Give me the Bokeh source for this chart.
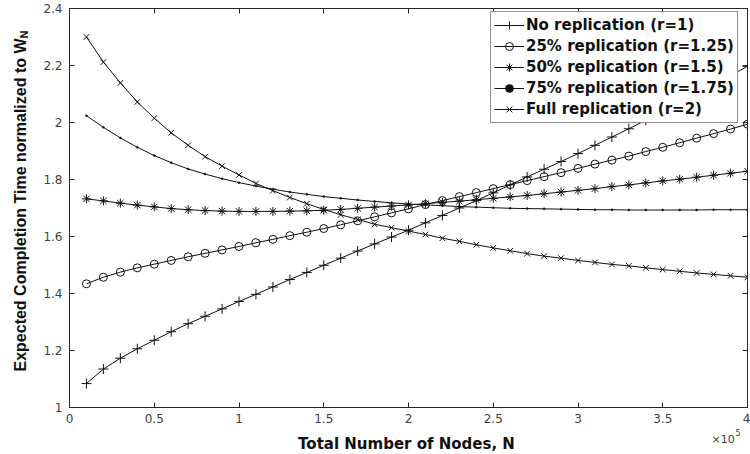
from bokeh.plotting import figure
from bokeh.models import FixedTicker, CustomJSTickFormatter, LinearAxis, Label, Range1d, Legend, LegendItem
from bokeh.core.enums import CoordinateUnits
from bokeh.embed import file_html
from bokeh.resources import INLINE

# Total number of nodes, in units of 10^5
nodes = [0.1, 0.2, 0.3, 0.4, 0.5, 0.6, 0.7, 0.8, 0.9, 1.0,
         1.1, 1.2, 1.3, 1.4, 1.5, 1.6, 1.7, 1.8, 1.9, 2.0,
         2.1, 2.2, 2.3, 2.4, 2.5, 2.6, 2.7, 2.8, 2.9, 3.0,
         3.1, 3.2, 3.3, 3.4, 3.5, 3.6, 3.7, 3.8, 3.9, 4.0]

no_rep = [1.084, 1.135, 1.173, 1.206, 1.236, 1.266, 1.294, 1.320, 1.346, 1.372,
          1.397, 1.423, 1.449, 1.474, 1.499, 1.524, 1.549, 1.574, 1.598, 1.622,
          1.648, 1.674, 1.700, 1.726, 1.753, 1.781, 1.809, 1.836, 1.863, 1.891,
          1.920, 1.949, 1.978, 2.008, 2.039, 2.070, 2.101, 2.133, 2.165, 2.197]

rep25 = [1.434, 1.457, 1.475, 1.490, 1.503, 1.516, 1.529, 1.541, 1.553, 1.565,
         1.578, 1.590, 1.603, 1.615, 1.628, 1.641, 1.655, 1.669, 1.683, 1.697,
         1.712, 1.726, 1.740, 1.754, 1.768, 1.782, 1.796, 1.810, 1.824, 1.839,
         1.854, 1.868, 1.882, 1.898, 1.913, 1.929, 1.945, 1.961, 1.977, 1.994]

rep50 = [1.732, 1.725, 1.717, 1.710, 1.704, 1.698, 1.694, 1.691, 1.689, 1.688,
         1.688, 1.688, 1.689, 1.690, 1.692, 1.695, 1.699, 1.703, 1.707, 1.711,
         1.715, 1.720, 1.724, 1.729, 1.734, 1.739, 1.744, 1.750, 1.756, 1.762,
         1.768, 1.775, 1.781, 1.788, 1.795, 1.801, 1.808, 1.815, 1.822, 1.829]

rep75 = [2.024, 1.983, 1.946, 1.913, 1.884, 1.859, 1.837, 1.819, 1.803, 1.789,
         1.777, 1.766, 1.756, 1.748, 1.740, 1.734, 1.728, 1.723, 1.718, 1.714,
         1.711, 1.708, 1.705, 1.703, 1.701, 1.699, 1.698, 1.697, 1.696, 1.695,
         1.694, 1.694, 1.693, 1.693, 1.693, 1.693, 1.693, 1.694, 1.694, 1.694]

full_rep = [2.300, 2.212, 2.139, 2.072, 2.015, 1.964, 1.920, 1.880, 1.847, 1.816,
            1.786, 1.761, 1.737, 1.715, 1.695, 1.676, 1.660, 1.643, 1.631, 1.619,
            1.607, 1.594, 1.583, 1.571, 1.560, 1.550, 1.540, 1.531, 1.524, 1.516,
            1.509, 1.502, 1.497, 1.490, 1.484, 1.478, 1.472, 1.467, 1.462, 1.457]

series_labels = ["No replication (r=1)", "25% replication (r=1.25)",
                 "50% replication (r=1.5)", "75% replication (r=1.75)",
                 "Full replication (r=2)"]
x_ticks = [0, 0.5, 1, 1.5, 2, 2.5, 3, 3.5, 4]
y_ticks = [1, 1.2, 1.4, 1.6, 1.8, 2, 2.2, 2.4]

AX = "#262626"
UNITS = "canvas" if "canvas" in CoordinateUnits else "screen"

p = figure(width=750, height=454, output_backend="svg", toolbar_location=None,
           x_range=Range1d(0, 4), y_range=Range1d(1, 2.4),
           min_border_left=68, min_border_right=3, min_border_top=8, min_border_bottom=47)
p.grid.visible = False
p.outline_line_color = AX
p.outline_line_width = 1
p.background_fill_color = "white"
p.border_fill_color = "white"

fmt = CustomJSTickFormatter(code="return tick.toString();")
blank = CustomJSTickFormatter(code="return '';")

def style_axis(ax, ticks, labels=True, standoff=7):
    ax.ticker = FixedTicker(ticks=ticks)
    ax.formatter = fmt if labels else blank
    ax.major_tick_in = 5
    ax.major_tick_out = 0
    ax.minor_tick_line_color = None
    ax.axis_line_color = AX
    ax.major_tick_line_color = AX
    ax.major_label_text_font = "DejaVu Sans"
    ax.major_label_text_font_size = "12px" if labels else "0px"
    ax.major_label_text_color = "#404040"
    ax.major_label_standoff = standoff if labels else 0
    ax.axis_label = None

style_axis(p.xaxis[0], x_ticks, standoff=6)
style_axis(p.yaxis[0], y_ticks, standoff=7)

top = LinearAxis()
style_axis(top, x_ticks, labels=False)
p.add_layout(top, "above")
right = LinearAxis()
style_axis(right, y_ticks, labels=False)
p.add_layout(right, "right")

LC = "#111111"
specs = [
    (no_rep, "cross", 10, None, 1),
    (rep25, "circle", 8, None, 1),
    (rep50, "asterisk", 9, None, 1),
    (rep75, "circle", 2, LC, 0.5),
    (full_rep, "x", 8, None, 1),
]
items = []
for (ys, marker, size, fill, lw), lab_text in zip(specs, series_labels):
    r1 = p.line(nodes, ys, line_color=LC, line_width=1)
    r2 = p.scatter(nodes, ys, marker=marker, size=size, line_color=LC,
                   fill_color=fill, line_width=lw)
    items.append(LegendItem(label=lab_text, renderers=[r1, r2]))

legend = Legend(items=items, location=(421, 284))
legend.label_text_font = "DejaVu Sans"
legend.label_text_font_style = "bold"
legend.label_text_font_size = "15px"
legend.label_text_color = "#111111"
legend.glyph_width = 30
legend.glyph_height = 20
legend.label_height = 20
legend.spacing = 1
legend.padding = 3
legend.label_standoff = 2
legend.margin = 0
legend.border_line_color = AX
legend.border_line_width = 1
legend.background_fill_color = "white"
legend.background_fill_alpha = 1
p.add_layout(legend)

# Titles drawn in the margins (canvas pixels, origin top-left); each sits in a side
# panel chosen so that the panels still fit inside the wanted borders.
def lab(**kw):
    return Label(x_units=UNITS, y_units=UNITS, text_baseline="alphabetic",
                 text_color="#111111", **kw)

p.add_layout(lab(x=20, y=371, angle=1.5707963, text="Expected Completion Time normalized to W",
                 text_align="left", text_font="Liberation Sans", text_font_style="bold",
                 text_font_size="16px"), "left")
p.add_layout(lab(x=23, y=38, angle=1.5707963, text="N", text_align="left",
                 text_font="Liberation Sans", text_font_style="bold",
                 text_font_size="11px"), "above")
p.add_layout(lab(x=406, y=443, text="Total Number of Nodes, N", text_align="center",
                 text_font="DejaVu Sans", text_font_style="bold",
                 text_font_size="15px"), "below")
p.add_layout(Label(x=711, y=439, x_units=UNITS, y_units=UNITS, text="\u00d710",
                   text_align="left", text_baseline="alphabetic", text_font="DejaVu Sans",
                   text_font_size="11px", text_color="#404040"), "left")
p.add_layout(Label(x=735, y=432, x_units=UNITS, y_units=UNITS, text="5",
                   text_align="left", text_baseline="alphabetic", text_font="DejaVu Sans",
                   text_font_size="8px", text_color="#404040"), "below")

open("out.html", "w").write(file_html(p, INLINE))
